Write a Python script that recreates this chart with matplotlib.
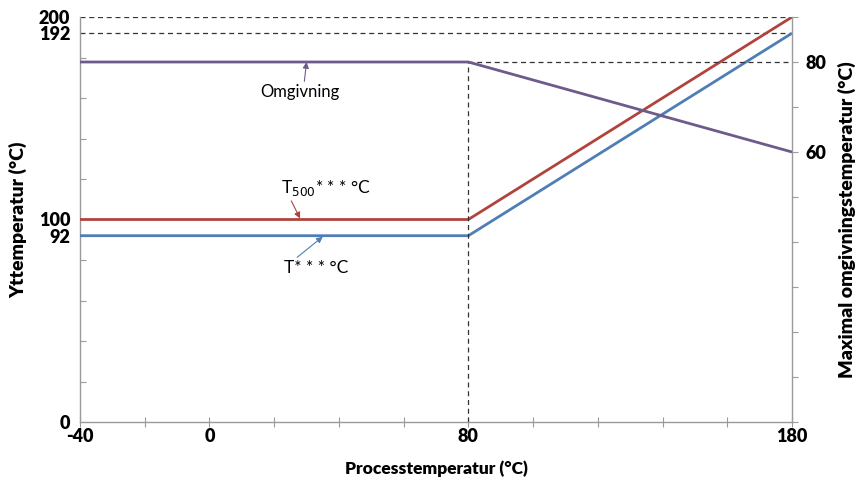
import numpy as np
import matplotlib.pyplot as plt

# data
proc_temp = [-40, 80, 180]
t500 = [100, 100, 200]
t_star = [92, 92, 192]
omgivning = [80, 80, 60]   # right axis

x_major = [-40, 0, 80, 180]
x_minor = np.arange(-40, 181, 20)
y_major = [0, 92, 100, 192, 200]
y_minor = np.arange(0, 201, 20)
y2_major = [60, 80]
y2_minor = np.arange(0, 91, 10)

red = '#b0443d'
blue = '#4f7db5'
purple = '#6e5b8c'
spine_col = '#9a9a9a'

plt.rcParams['font.family'] = ['Lato', 'DejaVu Sans']

fig = plt.figure(figsize=(8.68, 4.83), dpi=100)
ax = fig.add_axes([80/868, 1-422/483, (792-80)/868, (422-17)/483])
ax2 = ax.twinx()

ax.set_xlim(-40, 180)
ax.set_ylim(0, 200)
ax2.set_ylim(0, 90)

# reference dashed lines
dash = dict(color='#333333', lw=0.9, ls=(0, (4, 3)))
ax.plot([-40, 180], [200, 200], **dash)
ax.plot([-40, 180], [192, 192], **dash)
ax2.plot([80, 180], [80, 80], **dash)
ax2.plot([80, 80], [0, 80], **dash)

ax.plot(proc_temp, t500, color=red, lw=2.0, solid_capstyle='butt', zorder=3)
ax.plot(proc_temp, t_star, color=blue, lw=2.0, solid_capstyle='butt', zorder=3)
ax2.plot(proc_temp, omgivning, color=purple, lw=2.0, solid_capstyle='butt', zorder=3)

for a in (ax, ax2):
    a.spines['top'].set_visible(False)
    for s in ('left', 'right', 'bottom'):
        a.spines[s].set_color(spine_col)
        a.spines[s].set_linewidth(1.0)
ax.spines['right'].set_visible(False)
ax2.spines['left'].set_visible(False)
ax2.spines['bottom'].set_visible(False)

ax.set_xticks(x_major)
ax.set_xticks(x_minor, minor=True)
ax.set_xticklabels([str(v) for v in x_major], fontsize=13, fontweight='heavy')
ax.tick_params(axis='x', which='both', direction='inout', length=7, width=0.8,
               color=spine_col, pad=1)

ax.set_yticks(y_major)
ax.set_yticks(y_minor, minor=True)
ax.set_yticklabels([str(v) for v in y_major], fontsize=13, fontweight='heavy')
ax.tick_params(axis='y', which='major', length=0, pad=7)
ax.tick_params(axis='y', which='minor', direction='in', length=4, width=0.8, color=spine_col)

ax2.set_yticks(y2_major)
ax2.set_yticks(y2_minor, minor=True)
ax2.set_yticklabels([str(v) for v in y2_major], fontsize=13, fontweight='heavy')
ax2.tick_params(axis='y', which='both', direction='out', length=4, width=0.8,
                color=spine_col, pad=6)

ax.set_xlabel('Processtemperatur (°C)', fontsize=12.5, fontweight='heavy', labelpad=11)
ax.set_ylabel('Yttemperatur (°C)', fontsize=14, fontweight='heavy', labelpad=8)
ax2.set_ylabel('Maximal omgivningstemperatur (°C)', fontsize=14, fontweight='heavy', labelpad=8)

# annotations
arr = dict(arrowstyle='-|>', lw=0.8, mutation_scale=9)
ax2.annotate('Omgivning', xy=(30, 80), xytext=(28, 73.3), fontsize=12,
             ha='center', va='center',
             arrowprops=dict(arr, color=purple, shrinkA=0, shrinkB=0,
                             relpos=(0.55, 1.0)))
ax.annotate('T$_{500}$* * * °C', xy=(28, 100.5), xytext=(36, 115.5), fontsize=12.5,
            ha='center', va='center',
            arrowprops=dict(arr, color=red, shrinkA=0, shrinkB=0,
                            relpos=(0.1, 0.0)))
ax.annotate('T* * * °C', xy=(35, 91.5), xytext=(33, 76), fontsize=12.5,
            ha='center', va='center',
            arrowprops=dict(arr, color=blue, shrinkA=0, shrinkB=0,
                            relpos=(0.15, 1.0)))

fig.savefig('out.png', dpi=100)
